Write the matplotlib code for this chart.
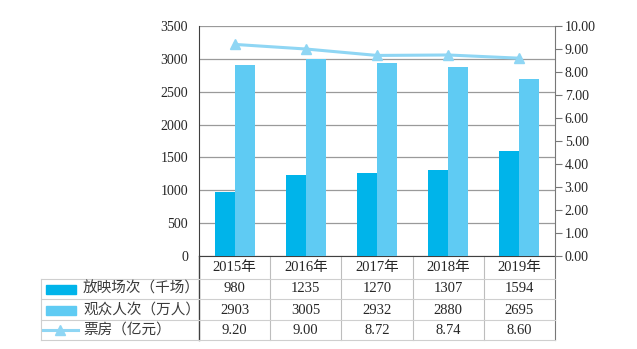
import matplotlib.pyplot as plt
import matplotlib.transforms as mtransforms

years = ["2015年", "2016年", "2017年", "2018年", "2019年"]
screenings = [980, 1235, 1270, 1307, 1594]        # 放映场次（千场）
audience = [2903, 3005, 2932, 2880, 2695]         # 观众人次（万人）
box_office = [9.20, 9.00, 8.72, 8.74, 8.60]       # 票房（亿元）
series_names = ["放映场次（千场）", "观众人次（万人）", "票房（亿元）"]

C_DARK = "#00b4ea"
C_LIGHT = "#5fcbf3"
C_LINE = "#8fd6f4"
GRID = "#9a9a9a"
SPINE = "#404040"
TEXT = "#262626"

plt.rcParams["font.family"] = ["Liberation Serif", "Noto Sans CJK SC"]
plt.rcParams["font.size"] = 9.5
plt.rcParams["text.color"] = TEXT
plt.rcParams["ytick.labelcolor"] = TEXT

W, H = 637, 349
fig = plt.figure(figsize=(W / 100, H / 100), dpi=100)


def fx(px):
    return px / W


def fy(py):
    return 1 - py / H


left, right, top, bottom = 199, 555, 26, 256
ax = fig.add_axes([fx(left), fy(bottom), fx(right - left), fy(top) - fy(bottom)])
x = list(range(len(years)))
bw = 0.28
ax.bar([i - bw / 2 for i in x], screenings, bw, color=C_DARK, zorder=3)
ax.bar([i + bw / 2 for i in x], audience, bw, color=C_LIGHT, zorder=3)
ax.set_xlim(-0.5, len(years) - 0.5)
ax.set_ylim(0, 3500)
ax.set_yticks(range(0, 3501, 500))
ax.set_xticks([])
ax.tick_params(axis="y", length=0, pad=8, labelsize=10)
ax.yaxis.grid(True, color=GRID, linewidth=0.9, zorder=0)
ax.set_axisbelow(True)
for s in ("top", "right"):
    ax.spines[s].set_visible(False)
ax.spines["left"].set_color(SPINE)
ax.spines["bottom"].set_color(SPINE)

ax2 = ax.twinx()
ax2.plot(x, box_office, color=C_LINE, marker="^", markersize=7, linewidth=2.2, zorder=4)
ax2.set_ylim(0, 10)
ax2.set_yticks(range(0, 11))
ax2.set_yticklabels([f"{v:.2f}" for v in range(0, 11)])
ax2.tick_params(axis="y", direction="out", length=5, width=0.8, color="#777777", pad=2, labelsize=10)
for s in ("top", "left", "bottom"):
    ax2.spines[s].set_visible(False)
ax2.spines["right"].set_color("#777777")

# data table under the axes
trans = mtransforms.blended_transform_factory(ax.transData, fig.transFigure)
tbl_left = 41
row_lines = [279, 299, 320, 340]
row_centers = [268, 289, 310, 330]
LC = "#cfcfcf"

fig.add_artist(plt.Line2D([fx(left), fx(left)], [fy(bottom), fy(340)], color=SPINE, lw=1.0))
fig.add_artist(plt.Line2D([fx(right), fx(right)], [fy(bottom), fy(340)], color="#777777", lw=0.8))
for i in range(1, len(years)):
    ax.plot([i - 0.5, i - 0.5], [fy(bottom), fy(340)], transform=trans, color="#bdbdbd",
            lw=0.8, clip_on=False)
for yl in row_lines:
    fig.add_artist(plt.Line2D([fx(tbl_left), fx(right)], [fy(yl), fy(yl)], color=LC, lw=0.8))
fig.add_artist(plt.Line2D([fx(tbl_left), fx(tbl_left)], [fy(279), fy(340)], color=LC, lw=0.8))

for i, yr in enumerate(years):
    ax.text(i, fy(row_centers[0]), yr, transform=trans, ha="center", va="center", fontsize=10.5)
rows = [screenings, audience, [f"{v:.2f}" for v in box_office]]
for r, vals in enumerate(rows):
    for i, v in enumerate(vals):
        ax.text(i, fy(row_centers[r + 1]), str(v), transform=trans, ha="center", va="center",
                fontsize=10.5)

# legend keys in the table
for r, name in enumerate(series_names):
    yc = fy(row_centers[r + 1])
    if r < 2:
        fig.add_artist(plt.Rectangle((fx(46), yc - 4.5 / H), fx(30), 9 / H,
                                     color=[C_DARK, C_LIGHT][r]))
    else:
        fig.add_artist(plt.Line2D([fx(43), fx(78)], [yc, yc], color=C_LINE, lw=2.2))
        fig.add_artist(plt.Line2D([fx(60)], [yc], color=C_LINE, marker="^", markersize=7))
    fig.text(fx(83), yc, name, ha="left", va="center", fontsize=10.5,
             family=["Noto Sans CJK SC"], color="#3a3a3a")

fig.savefig("out.png", dpi=100)
